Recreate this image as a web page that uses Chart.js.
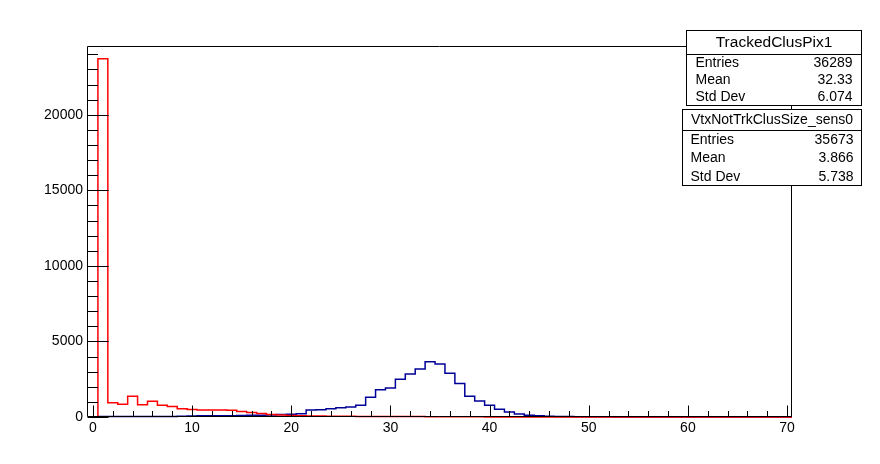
<!DOCTYPE html>
<html>
<head>
<meta charset="utf-8">
<script src="https://cdn.jsdelivr.net/npm/chart.js@4.4.1/dist/chart.umd.min.js"></script>
<style>
  html, body { margin: 0; padding: 0; background: #fff; }
  #wrap { width: 880px; height: 464px; }
</style>
</head>
<body>
<div id="wrap"><canvas id="chart"></canvas></div>
<script>
// --- Data (bin centres, width 1) ---
const bins = [0, 1, 2, 3, 4, 5, 6, 7, 8, 9, 10, 11, 12, 13, 14, 15, 16, 17, 18, 19,
    20, 21, 22, 23, 24, 25, 26, 27, 28, 29, 30, 31, 32, 33, 34, 35, 36, 37, 38, 39,
    40, 41, 42, 43, 44, 45, 46, 47, 48, 49, 50, 51, 52, 53, 54, 55, 56, 57, 58, 59,
    60, 61, 62, 63, 64, 65, 66, 67, 68, 69, 70];

// TrackedClusPix1 (blue)
const trackedClus = [0, 25, 25, 30, 30, 30, 35, 35, 40, 50, 70, 75, 80, 85, 90, 100, 110, 120, 140, 160,
    180, 210, 470, 480, 540, 610, 660, 780, 1300, 1810, 1920, 2500, 2850, 3180, 3650, 3510, 2890, 2210, 1380, 1060,
    780, 510, 330, 200, 120, 75, 50, 35, 25, 18, 14, 11, 9, 7, 6, 5, 4, 3, 3, 2,
    2, 2, 1, 1, 1, 1, 1, 0, 1, 0, 0];

// VtxNotTrkClusSize_sens0 (red)
const vtxNotTrk = [0, 23710, 943, 850, 1380, 810, 1050, 785, 700, 540, 500, 470, 465, 460, 450, 370, 300, 230, 170, 130,
    100, 80, 70, 60, 55, 50, 45, 40, 38, 35, 32, 30, 28, 26, 24, 22, 20, 18, 16, 14,
    0, 0, 0, 0, 0, 0, 0, 0, 0, 0, 0, 0, 0, 0, 0, 0, 0, 0, 0, 0,
    0, 0, 0, 0, 0, 0, 0, 0, 0, 0, 0];

const xMajor = [0, 10, 20, 30, 40, 50, 60, 70];
const yMajor = [0, 5000, 10000, 15000, 20000];

const stats = [
    { title: "TrackedClusPix1", rows: [["Entries", "36289"], ["Mean", "32.33"], ["Std Dev", "6.074"]] },
    { title: "VtxNotTrkClusSize_sens0", rows: [["Entries", "35673"], ["Mean", "3.866"], ["Std Dev", "5.738"]] }
];

const FONT = "'Liberation Sans', Arial, Helvetica, sans-serif";

// histogram outline: each bin gives a flat segment between its edges
function stepPoints(vals) {
    const pts = [];
    vals.forEach((v, i) => {
        pts.push({ x: bins[i] - 0.5, y: v }, { x: bins[i] + 0.5, y: v });
    });
    return pts;
}

// --- Frame and ROOT style inward ticks ---
const framePlugin = {
    id: 'frame',
    afterDatasetsDraw(chart) {
        const { ctx, chartArea: a, scales: { x, y } } = chart;
        ctx.save();
        ctx.strokeStyle = '#000';
        ctx.lineWidth = 1;
        const L = a.left - 0.5, R = a.right - 0.5, T = a.top + 0.5, B = a.bottom - 0.5;
        ctx.beginPath();
        ctx.moveTo(L, T); ctx.lineTo(R, T); ctx.lineTo(R, B); ctx.lineTo(L, B); ctx.closePath();
        ctx.stroke();
        ctx.beginPath();
        for (let v = 0; v <= 70; v += 2) {
            const px = Math.round(x.getPixelForValue(v)) + 0.5;
            const len = v % 10 === 0 ? 11 : 5.5;
            ctx.moveTo(px, B); ctx.lineTo(px, B - len);
        }
        for (let v = 0; v <= 24000; v += 1000) {
            const py = Math.round(y.getPixelForValue(v)) + 0.5;
            const len = v % 5000 === 0 ? 21 : 10.5;
            ctx.moveTo(L, py); ctx.lineTo(L + len, py);
        }
        ctx.stroke();
        ctx.restore();
    },
    afterDraw(chart) {
        const ctx = chart.ctx;
        const boxes = [
            { x: 686.5, y: 30.5, w: 175, h: 75, sep: 24, titleSize: 15.5, padL: 9, padR: 9 },
            { x: 682.5, y: 109.5, w: 179, h: 76, sep: 21, titleSize: 14, padL: 8, padR: 8 }
        ];
        ctx.save();
        boxes.forEach((b, i) => {
            const s = stats[i];
            ctx.fillStyle = '#fff';
            ctx.fillRect(b.x, b.y, b.w, b.h);
            ctx.strokeStyle = '#000';
            ctx.lineWidth = 1;
            ctx.strokeRect(b.x, b.y, b.w, b.h);
            ctx.beginPath();
            ctx.moveTo(b.x, b.y + b.sep); ctx.lineTo(b.x + b.w, b.y + b.sep);
            ctx.stroke();
            ctx.fillStyle = '#000';
            ctx.textBaseline = 'middle';
            ctx.textAlign = 'center';
            ctx.font = b.titleSize + 'px ' + FONT;
            ctx.fillText(s.title, b.x + b.w / 2, b.y + b.sep / 2 + 0.5);
            ctx.font = '14px ' + FONT;
            const rowH = (b.h - b.sep) / 3;
            s.rows.forEach((r, k) => {
                const ty = b.y + b.sep + rowH * (k + 0.5) + 0.5;
                ctx.textAlign = 'left';
                ctx.fillText(r[0], b.x + b.padL, ty);
                ctx.textAlign = 'right';
                ctx.fillText(r[1], b.x + b.w - b.padR, ty);
            });
        });
        ctx.restore();
    }
};

new Chart(document.getElementById('chart').getContext('2d'), {
    type: 'line',
    data: {
        datasets: [
            {
                label: "VtxNotTrkClusSize_sens0",
                data: stepPoints(vtxNotTrk),
                borderColor: "#ff0000",
                borderWidth: 1.5,
                pointRadius: 0,
                tension: 0,
                fill: false,
                clip: false
            },
            {
                label: "TrackedClusPix1",
                data: stepPoints(trackedClus),
                borderColor: "#000099",
                borderWidth: 1.5,
                pointRadius: 0,
                tension: 0,
                fill: false,
                clip: false
            }
        ]
    },
    options: {
        responsive: true,
        maintainAspectRatio: false,
        animation: false,
        events: [],
        layout: { padding: { top: 46, right: 88, left: 0, bottom: 0 } },
        plugins: { legend: { display: false }, tooltip: { enabled: false } },
        scales: {
            x: {
                type: 'linear',
                min: -0.5,
                max: 70.5,
                grid: { display: false, drawTicks: false },
                border: { display: false },
                afterBuildTicks: s => { s.ticks = xMajor.map(v => ({ value: v })); },
                afterFit: s => { s.height = 47; },
                ticks: { font: { family: FONT, size: 14 }, color: '#000', padding: 3, maxRotation: 0, autoSkip: false,
                         callback: v => String(v) }
            },
            y: {
                min: 0,
                max: 24550,
                grid: { display: false, drawTicks: false },
                border: { display: false },
                afterBuildTicks: s => { s.ticks = yMajor.map(v => ({ value: v })); },
                afterFit: s => { s.width = 88; },
                ticks: { font: { family: FONT, size: 14 }, color: '#000', padding: 5,
                         callback: v => String(v) }
            }
        }
    },
    plugins: [framePlugin]
});
</script>
</body>
</html>
